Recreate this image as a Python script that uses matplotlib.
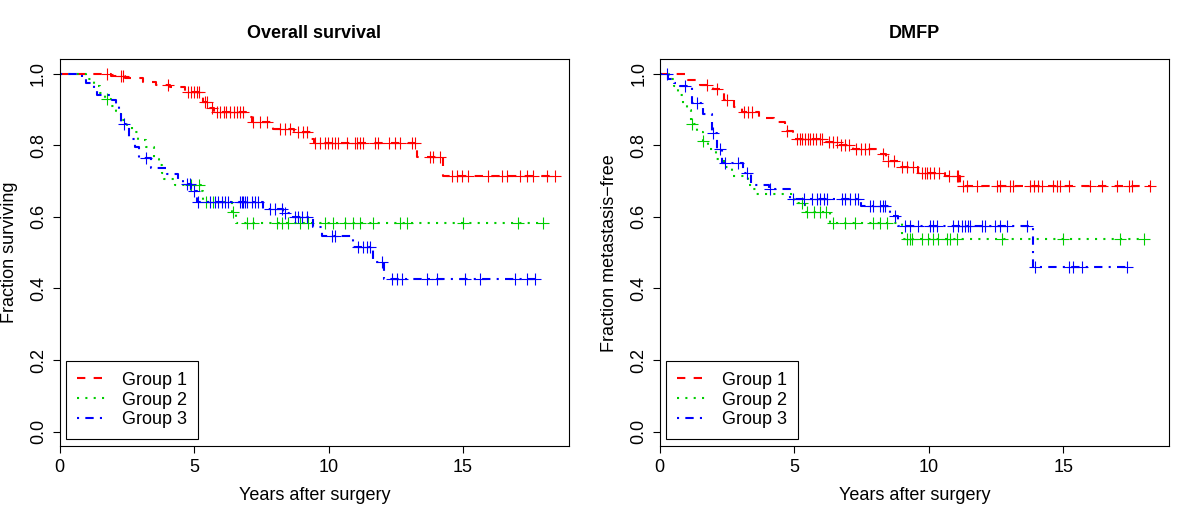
import numpy as np
import matplotlib
matplotlib.use("Agg")
import matplotlib.pyplot as plt

plt.rcParams["font.family"] = ["Liberation Sans", "DejaVu Sans"]

# ---- Overall survival: step times / survival after each event, censor times ----
os_g1_t = [1.9, 2.45, 3.1, 3.6, 4.1, 4.65, 5.2, 5.35, 5.6, 5.75, 6.95, 7.15, 7.95,
           8.7, 9.35, 9.45, 13.3, 14.27]
os_g1_s = [0.994, 0.988, 0.976, 0.969, 0.963, 0.948, 0.935, 0.92, 0.905, 0.892, 0.878,
           0.864, 0.845, 0.836, 0.818, 0.805, 0.766, 0.715]
os_g1_c = [1.75, 2.3, 2.37, 4.05, 4.79, 4.9, 5.0, 5.1, 5.17, 5.4, 5.5, 5.65, 5.85, 5.95,
           6.1, 6.2, 6.35, 6.5, 6.6, 6.7, 6.83, 7.2, 7.45, 7.7, 8.2, 8.38, 8.57, 8.88,
           9.06, 9.19, 9.5, 9.68, 9.87, 9.99, 10.12, 10.24, 10.37, 10.68, 11.0, 11.05,
           11.17, 11.3, 11.73, 11.85, 12.23, 12.47, 12.66, 13.09, 13.22, 13.78, 13.9,
           14.15, 14.58, 14.77, 14.95, 15.2, 15.94, 16.44, 16.62, 17.12, 17.37, 17.61,
           18.11, 18.42]

os_g2_t = [1.0, 1.3, 1.5, 1.7, 1.9, 2.1, 2.3, 2.5, 2.7, 2.9, 3.2, 3.5, 3.7, 3.8, 3.9,
           4.3, 5.25, 5.35, 6.4, 6.55]
os_g2_s = [0.985, 0.965, 0.945, 0.929, 0.91, 0.895, 0.87, 0.855, 0.836, 0.815, 0.794,
           0.762, 0.745, 0.722, 0.706, 0.69, 0.673, 0.641, 0.613, 0.582]
os_g2_c = [1.75, 4.9, 5.2, 5.45, 5.7, 6.45, 6.96, 7.2, 8.07, 8.26, 8.51, 8.94, 9.25,
           9.87, 10.18, 10.61, 10.92, 11.17, 11.67, 12.66, 12.91, 15.01, 17.06, 17.99]

os_g3_t = [0.85, 1.0, 1.3, 1.4, 1.95, 2.1, 2.2, 2.3, 2.6, 2.8, 2.95, 3.4, 4.0, 4.4,
           4.6, 4.9, 5.1, 7.58, 8.3, 8.69, 9.44, 9.75, 10.92, 11.67, 12.05]
os_g3_s = [0.986, 0.973, 0.956, 0.94, 0.925, 0.911, 0.887, 0.86, 0.818, 0.794, 0.765,
           0.736, 0.72, 0.705, 0.692, 0.673, 0.641, 0.622, 0.61, 0.599, 0.571, 0.547,
           0.517, 0.475, 0.427]
os_g3_c = [2.4, 3.2, 4.75, 4.85, 5.0, 5.15, 5.6, 5.78, 5.9, 6.03, 6.15, 6.28, 6.71,
           6.77, 6.83, 6.9, 6.96, 7.15, 7.27, 7.39, 7.83, 8.01, 8.26, 8.39, 8.76, 8.88,
           9.0, 9.19, 10.12, 10.25, 11.11, 11.3, 11.42, 11.54, 11.98, 12.35, 12.53,
           12.72, 13.65, 14.02, 15.07, 15.63, 16.93, 17.37, 17.68]

# ---- DMFP ----
dm_g1_t = [1.05, 1.5, 2.0, 2.4, 2.75, 3.05, 3.7, 4.25, 4.65, 4.95, 6.2, 6.7, 7.2,
           8.1, 8.4, 8.9, 9.6, 10.6, 11.17]
dm_g1_s = [0.981, 0.969, 0.957, 0.927, 0.906, 0.892, 0.876, 0.864, 0.841, 0.818, 0.81,
           0.80, 0.79, 0.775, 0.757, 0.74, 0.722, 0.715, 0.687]
dm_g1_c = [1.75, 2.12, 2.5, 3.15, 3.3, 3.45, 4.72, 5.1, 5.2, 5.3, 5.4, 5.5, 5.6, 5.7,
           5.8, 5.95, 6.05, 6.3, 6.45, 6.6, 6.75, 6.9, 7.05, 7.3, 7.5, 7.65, 7.8, 8.3,
           8.5, 8.7, 9.0, 9.2, 9.4, 9.75, 9.85, 9.95, 10.05, 10.2, 10.4, 10.75, 11.05,
           11.1, 11.29, 11.42, 11.79, 12.53, 12.66, 13.03, 13.15, 13.77, 13.9, 14.08,
           14.2, 14.64, 14.76, 14.89, 15.2, 16.0, 16.44, 17.0, 17.43, 17.55, 18.23]

dm_g2_t = [0.35, 0.55, 0.7, 0.85, 1.0, 1.15, 1.4, 1.6, 1.8, 2.1, 2.4, 2.7, 3.3, 3.45,
           3.6, 5.0, 5.4, 6.33, 9.0]
dm_g2_s = [0.985, 0.966, 0.94, 0.915, 0.897, 0.859, 0.836, 0.813, 0.79, 0.762, 0.738,
           0.715, 0.69, 0.678, 0.664, 0.64, 0.613, 0.582, 0.538]
dm_g2_c = [1.19, 1.63, 5.28, 5.47, 5.72, 5.97, 6.2, 6.46, 6.89, 7.26, 7.94, 8.2, 8.44,
           9.19, 9.31, 9.37, 9.74, 9.99, 10.18, 10.36, 10.67, 10.8, 11.05, 12.71, 15.01,
           17.12, 17.99]

dm_g3_t = [0.3, 0.55, 0.75, 1.2, 1.6, 1.94, 2.15, 2.3, 3.1, 3.4, 4.05, 4.85, 7.5,
           8.55, 8.85, 13.88]
dm_g3_s = [0.985, 0.975, 0.965, 0.918, 0.887, 0.834, 0.79, 0.75, 0.722, 0.69, 0.678,
           0.65, 0.631, 0.603, 0.575, 0.459]
dm_g3_c = [0.26, 0.95, 1.38, 2.0, 2.25, 2.43, 2.93, 3.24, 4.1, 4.95, 5.35, 5.65, 5.85,
           5.97, 6.1, 6.22, 6.77, 6.9, 7.08, 7.27, 7.39, 7.82, 7.95, 8.2, 8.32, 8.38,
           8.75, 9.12, 9.31, 9.62, 10.05, 10.18, 10.3, 10.92, 11.1, 11.23, 11.35, 11.48,
           11.54, 11.97, 12.1, 12.47, 12.66, 12.9, 13.65, 13.96, 15.2, 15.38, 15.69, 17.37]

GROUPS = ["Group 1", "Group 2", "Group 3"]
COLORS = ["#FF0000", "#00CD00", "#0000FF"]
STYLES = [(0, (4, 4)), (0, (1, 3)), (0, (1, 3, 4, 3))]

FS = 13


def km_curve(ax, ev_t, ev_s, cens, color, ls, label):
    end = max(max(cens), max(ev_t))
    t = np.r_[0.0, ev_t, end]
    s = np.r_[1.0, ev_s, ev_s[-1]]
    ax.step(t, s, where="post", color=color, linestyle=ls, lw=1.5, label=label)
    cens = np.asarray(cens)
    idx = np.searchsorted(t, cens, side="right") - 1
    ax.plot(cens, s[idx], linestyle="none", marker="+", ms=9, mew=0.8, color=color)


def style_axes(ax, title, ylabel):
    ax.set_xlim(0, 18.95)
    ax.set_ylim(-0.04, 1.04)
    ax.set_xticks([0, 5, 10, 15])
    ax.set_yticks([0.0, 0.2, 0.4, 0.6, 0.8, 1.0])
    ax.set_yticklabels(["0.0", "0.2", "0.4", "0.6", "0.8", "1.0"])
    ax.tick_params(direction="out", length=5, width=0.8, labelsize=FS, pad=4)
    for lab in ax.get_yticklabels():
        lab.set_rotation(90)
        lab.set_va("center")
    for sp in ax.spines.values():
        sp.set_linewidth(0.8)
    ax.set_title(title, fontsize=FS, fontweight="bold", pad=15)
    ax.set_xlabel("Years after surgery", fontsize=FS)
    ax.set_ylabel(ylabel, fontsize=FS)
    ax.xaxis.set_label_coords(0.5, -0.105)
    ax.yaxis.set_label_coords(-0.081, 0.5)
    leg = ax.legend(loc="lower left", bbox_to_anchor=(0.0128, 0.0173), borderaxespad=0,
                    fontsize=FS, frameon=True, fancybox=False, framealpha=1,
                    edgecolor="black", handlelength=1.6, handletextpad=0.9,
                    labelspacing=0.16, borderpad=0.6)
    leg.get_frame().set_linewidth(0.8)


fig = plt.figure(figsize=(12, 5.2), dpi=100)
ax1 = fig.add_axes([0.0496, 0.1423, 0.4248, 0.7437])
ax2 = fig.add_axes([0.5497, 0.1423, 0.4248, 0.7437])

os_data = [(os_g1_t, os_g1_s, os_g1_c), (os_g2_t, os_g2_s, os_g2_c), (os_g3_t, os_g3_s, os_g3_c)]
dm_data = [(dm_g1_t, dm_g1_s, dm_g1_c), (dm_g2_t, dm_g2_s, dm_g2_c), (dm_g3_t, dm_g3_s, dm_g3_c)]

for (t, s, c), col, ls, lab in zip(os_data, COLORS, STYLES, GROUPS):
    km_curve(ax1, t, s, c, col, ls, lab)
for (t, s, c), col, ls, lab in zip(dm_data, COLORS, STYLES, GROUPS):
    km_curve(ax2, t, s, c, col, ls, lab)

style_axes(ax1, "Overall survival", "Fraction surviving")
style_axes(ax2, "DMFP", "Fraction metastasis\u2212free")

fig.savefig("out.png", dpi=100)
